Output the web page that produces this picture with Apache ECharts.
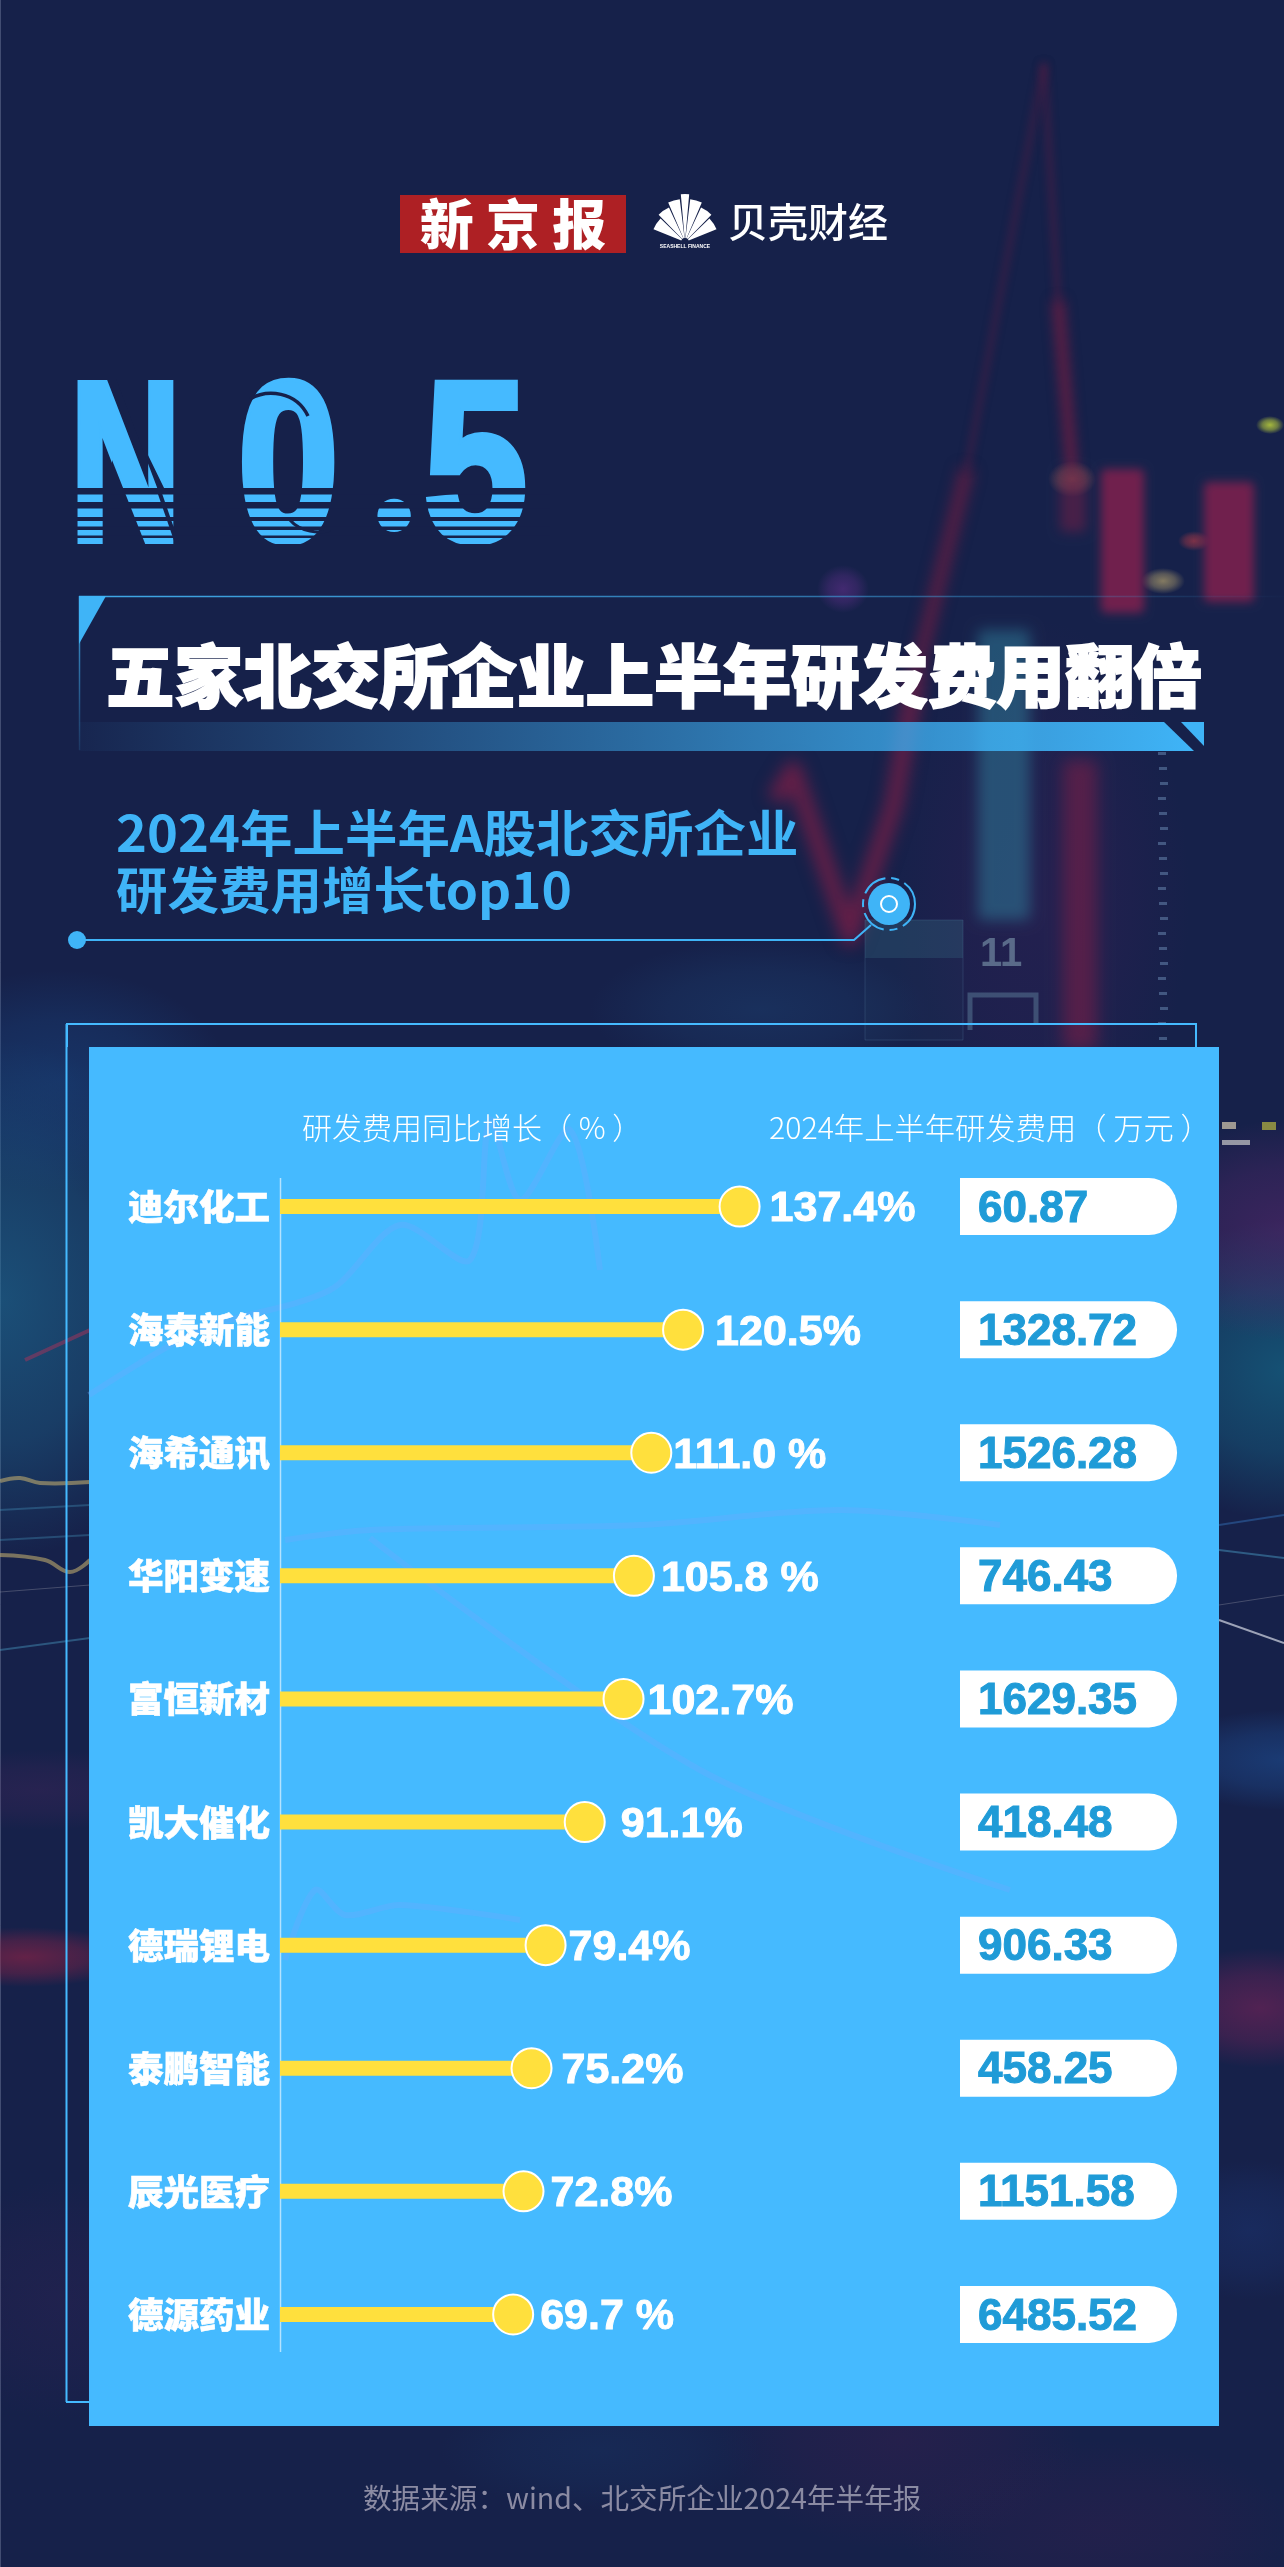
<!DOCTYPE html>
<html lang="zh-CN">
<head>
<meta charset="utf-8">
<title>五家北交所企业上半年研发费用翻倍</title>
<script src="https://cdn.jsdelivr.net/npm/echarts@6/dist/echarts.min.js"></script>
<style>
html, body { margin: 0; padding: 0; background: #16214a; }
#chart { width: 1284px; height: 2567px; }
</style>
</head>
<body>
<div id="chart"></div>
<script>
var companies = ['迪尔化工', '海泰新能', '海希通讯', '华阳变速', '富恒新材', '凯大催化', '德瑞锂电', '泰鹏智能', '辰光医疗', '德源药业'];
var growth = [137.4, 120.5, 111.0, 105.8, 102.7, 91.1, 79.4, 75.2, 72.8, 69.7];
var growthText = ['137.4%', '120.5%', '111.0 %', '105.8 %', '102.7%', '91.1%', '79.4%', '75.2%', '72.8%', '69.7 %'];
var costs = ['60.87', '1328.72', '1526.28', '746.43', '1629.35', '418.48', '906.33', '458.25', '1151.58', '6485.52'];

var CJK = '"Noto Sans CJK SC", sans-serif';
var LATIN = '"Liberation Sans", Arial, sans-serif';
var BG = '#16214a';
var BLUE = '#45baff';

// the gap between dot and label is not constant in the original
var labelGap = [4, 6, -4, 1, -2, 10, -3, 4, 1, 1];

function txt(s, x, y, size, fill, weight, family, extra) {
	var el = {
		type: 'text', x: x, y: y, z: 20, silent: true,
		style: { text: s, fontSize: size, fontWeight: weight || 'normal', fontFamily: family || CJK, fill: fill, align: 'left', verticalAlign: 'middle' }
	};
	if (extra) {
		for (var k in extra) {
			if (k === 'style') { for (var j in extra.style) el.style[j] = extra.style[j]; }
			else el[k] = extra[k];
		}
	}
	return el;
}

// radial gradients stay round on non-square shapes, so scale a unit circle instead
function blob(x, y, rx, ry, rgb, a) {
	return {
		type: 'circle', z: -5, silent: true, x: x, y: y, scaleX: rx, scaleY: ry,
		shape: { cx: 0, cy: 0, r: 1 },
		style: { fill: { type: 'radial', x: 0.5, y: 0.5, r: 0.5, colorStops: [
			{ offset: 0, color: 'rgba(' + rgb + ',' + a + ')' },
			{ offset: 0.55, color: 'rgba(' + rgb + ',' + (a * 0.6) + ')' },
			{ offset: 1, color: 'rgba(' + rgb + ',0)' }
		] } }
	};
}

// shape sits off the canvas, only its shadow lands on it: that gives a real blur
var OFF = 3000;
function candle(x, y, w, h, fill, blur) {
	return { type: 'rect', z: -4, silent: true, x: -OFF, shape: { x: x, y: y, width: w, height: h, r: 5 },
		style: { fill: '#000', shadowBlur: blur || 10, shadowColor: fill, shadowOffsetX: OFF } };
}

function glowLine(points, color, width, blur) {
	return { type: 'polyline', z: -4, silent: true, x: -OFF, shape: { points: points, smooth: 0 },
		style: { stroke: '#000', lineWidth: width, fill: null, shadowBlur: blur, shadowColor: color, shadowOffsetX: OFF, lineJoin: 'round' } };
}

var graphics = [];

// blurred market photo behind everything
graphics.push(
	{ type: 'line', z: -5, silent: true, shape: { x1: 0.5, y1: 0, x2: 0.5, y2: 2567 }, style: { stroke: 'rgba(150,160,190,.35)', lineWidth: 1 } },
	blob(0, 1300, 200, 260, '30,110,150', 0.6),
	blob(1284, 1370, 170, 150, '20,120,150', 0.55),
	blob(1284, 1230, 150, 110, '90,40,110', 0.55),
	blob(60, 1080, 170, 110, '25,70,130', 0.5),
	blob(1284, 1760, 130, 50, '30,80,150', 0.55),
	blob(25, 1957, 110, 30, '150,35,70', 0.6),
	blob(1260, 2008, 110, 60, '130,35,90', 0.55),
	blob(40, 1790, 150, 40, '90,40,100', 0.25),
	blob(1250, 2230, 100, 70, '30,60,130', 0.35),
	blob(60, 2300, 130, 120, '60,35,90', 0.25),
	blob(900, 2440, 180, 110, '70,30,80', 0.3),
	blob(1100, 2530, 200, 90, '70,30,80', 0.25),
	blob(600, 2450, 160, 60, '25,60,110', 0.3),
	blob(1040, 900, 150, 280, '60,30,90', 0.35),
	blob(760, 1010, 170, 70, '30,70,120', 0.4),
	candle(978, 630, 52, 290, 'rgba(45,120,150,.55)', 14),
	candle(1063, 760, 34, 290, 'rgba(120,30,70,.6)', 16),
	glowLine([[967, 469], [1044, 64]], 'rgba(120,28,65,.5)', 4, 8),
	glowLine([[917, 670], [967, 469]], 'rgba(130,28,65,.6)', 14, 14),
	glowLine([[1044, 64], [1058, 300]], 'rgba(130,28,65,.5)', 4, 8),
	glowLine([[1058, 300], [1072, 470]], 'rgba(140,28,65,.6)', 12, 12),
	glowLine([[775, 800], [793, 770], [850, 937], [894, 804], [917, 670]], 'rgba(150,30,70,.6)', 18, 16),
	candle(1060, 470, 26, 62, 'rgba(120,30,70,.5)', 12),
	candle(1101, 469, 43, 144, 'rgba(128,32,78,.85)', 10),
	candle(1204, 482, 50, 120, 'rgba(128,32,78,.85)', 10),
	blob(1072, 479, 24, 18, '190,110,90', 0.5),
	blob(1163, 581, 22, 13, '190,170,110', 0.65),
	blob(1194, 541, 16, 10, '190,60,70', 0.6),
	blob(1270, 425, 14, 9, '180,200,60', 0.9),
	blob(843, 589, 26, 24, '110,50,150', 0.5)
);

// faint dotted column on the right and the "11" of the photo
for (var d = 0; d < 20; d++) {
	graphics.push({ type: 'rect', z: -4, silent: true, shape: { x: 1158 + (d % 3), y: 752 + d * 15, width: 8, height: 3 }, style: { fill: 'rgba(130,170,210,.4)' } });
}
graphics.push(
	txt('11', 980, 955, 40, 'rgba(170,210,220,.42)', 'bold', LATIN, { z: -3 }),
	{ type: 'polyline', z: -3, silent: true, shape: { points: [[970, 1030], [970, 995], [1036, 995], [1036, 1025]] }, style: { stroke: 'rgba(120,170,190,.35)', lineWidth: 5, fill: null } },
	{ type: 'rect', z: -3, silent: true, shape: { x: 865, y: 920, width: 98, height: 120 }, style: { fill: 'rgba(40,70,110,.12)', stroke: 'rgba(100,150,180,.22)', lineWidth: 1 } },
	{ type: 'rect', z: -3, silent: true, shape: { x: 865, y: 920, width: 98, height: 38 }, style: { fill: 'rgba(60,120,140,.25)' } }
);

// thin streaks left and right of the panel
[
	[[0, 1481], [20, 1478], [40, 1483], [90, 1482]],
	[[0, 1555], [45, 1560], [70, 1572], [90, 1560]]
].forEach(function (p) {
	graphics.push({ type: 'polyline', z: -4, silent: true, shape: { points: p, smooth: 0.4 }, style: { stroke: 'rgba(190,170,110,.6)', lineWidth: 4, fill: null } });
});
[
	[[0, 1650], [90, 1638], 'rgba(70,150,190,.45)', 2],
	[[0, 1592], [90, 1585], 'rgba(180,180,190,.3)', 1],
	[[0, 1510], [90, 1505], 'rgba(70,150,190,.35)', 2],
	[[0, 1540], [90, 1535], 'rgba(70,150,190,.35)', 2],
	[[25, 1360], [90, 1330], 'rgba(170,50,90,.5)', 4],
	[[1219, 1620], [1284, 1643], 'rgba(190,195,210,.8)', 2],
	[[1219, 1550], [1284, 1558], 'rgba(70,150,190,.5)', 2],
	[[1219, 1525], [1284, 1515], 'rgba(50,110,180,.5)', 2],
	[[1219, 1605], [1284, 1595], 'rgba(180,180,190,.3)', 1]
].forEach(function (l) {
	graphics.push({ type: 'line', z: -4, silent: true, shape: { x1: l[0][0], y1: l[0][1], x2: l[1][0], y2: l[1][1] }, style: { stroke: l[2], lineWidth: l[3] } });
});
[[1222, 1122, 14, 7, '#d9cdb0'], [1262, 1122, 14, 8, '#b8b840'], [1222, 1140, 28, 5, '#c9c9c9']].forEach(function (s) {
	graphics.push({ type: 'rect', z: -4, silent: true, shape: { x: s[0], y: s[1], width: s[2], height: s[3] }, style: { fill: s[4], opacity: 0.7 } });
});

// logos
graphics.push(
	{ type: 'rect', z: 10, silent: true, shape: { x: 400, y: 195, width: 226, height: 58 }, style: { fill: '#ae2024' } },
	txt('新 京 报', 513, 224, 54, '#fff', 900, CJK, { style: { align: 'center' } }),
	txt('贝壳财经', 728, 222, 40, '#fff', 500),
	txt('SEASHELL FINANCE', 685, 247, 5, '#fff', 'bold', LATIN, { style: { align: 'center' } })
);
[[-158, -136, 34], [-134, -115, 38], [-113, -97, 43], [-95, -85, 48], [-83, -67, 43], [-65, -46, 38], [-44, -22, 34]].forEach(function (p) {
	graphics.push({ type: 'sector', z: 10, silent: true,
		shape: { cx: 685, cy: 242, r0: 4, r: p[2], startAngle: p[0] * Math.PI / 180, endAngle: p[1] * Math.PI / 180 },
		style: { fill: '#fff' } });
});

// NO.5 headline, real text squeezed and thickened to the original proportions
function hero(s, x, sx) {
	return txt(s, x, 478, 226, BLUE, 'bold', LATIN, { scaleX: sx, z: 11, style: { stroke: BLUE, lineWidth: 8, lineJoin: 'miter' } });
}
graphics.push(
	hero('N', 70, 0.68), hero('0', 238, 0.8), hero('5', 424, 0.82),
	txt('.', 368, 459, 220, BLUE, 'bold', '"Lato", sans-serif', { z: 11 })
);
// counters of the N and the cut through the 0, cleaned back to the background
graphics.push(
	{ type: 'polygon', z: 12, silent: true, shape: { points: [[115, 376], [147, 376], [147, 453], [165, 490], [158, 490]] }, style: { fill: BG } },
	{ type: 'polygon', z: 12, silent: true, shape: { points: [[112, 460], [146, 546], [112, 546]] }, style: { fill: BG } },
	{ type: 'line', z: 12, silent: true, shape: { x1: 158, y1: 488, x2: 178, y2: 546 }, style: { stroke: BG, lineWidth: 4 } },
	{ type: 'bezierCurve', z: 12, silent: true, shape: { x1: 250, y1: 399, cpx1: 267, cpy1: 389, cpx2: 296, cpy2: 391, x2: 308, y2: 416 }, style: { stroke: BG, lineWidth: 3.5, fill: null } },
	{ type: 'bezierCurve', z: 12, silent: true, shape: { x1: 290, y1: 520, cpx1: 300, cpy1: 532, cpx2: 320, cpy2: 534, x2: 330, y2: 530 }, style: { stroke: BG, lineWidth: 3, fill: null } }
);
[[488, 6.5], [502, 6.5], [517, 4], [526.5, 3.5], [535.5, 2.5]].forEach(function (g) {
	graphics.push({ type: 'rect', z: 12, silent: true, shape: { x: 70, y: g[0], width: 480, height: g[1] }, style: { fill: BG } });
});
graphics.push(
	{ type: 'rect', z: 12, silent: true, shape: { x: 60, y: 544, width: 500, height: 14 }, style: { fill: BG } },
	{ type: 'rect', z: 12, silent: true, shape: { x: 60, y: 364, width: 130, height: 14 }, style: { fill: BG } }
);

// title band
graphics.push(
	{ type: 'line', z: 6, silent: true, shape: { x1: 79, y1: 596.5, x2: 1290, y2: 596.5 },
		style: { lineWidth: 1.5, stroke: { type: 'linear', x: 0, y: 0, x2: 1, y2: 0, colorStops: [{ offset: 0, color: '#3fa9e8' }, { offset: 0.6, color: 'rgba(63,169,232,.6)' }, { offset: 1, color: 'rgba(63,169,232,0)' }] } } },
	{ type: 'line', z: 6, silent: true, shape: { x1: 79.5, y1: 596, x2: 79.5, y2: 750 },
		style: { lineWidth: 1.5, stroke: { type: 'linear', x: 0, y: 0, x2: 0, y2: 1, colorStops: [{ offset: 0, color: '#3fa9e8' }, { offset: 1, color: 'rgba(63,169,232,0.1)' }] } } },
	{ type: 'polygon', z: 6, silent: true, shape: { points: [[79, 596], [106, 596], [79, 644]] }, style: { fill: '#3fb4f7' } },
	{ type: 'polygon', z: 6, silent: true, shape: { points: [[79, 722], [1164, 722], [1194, 751], [79, 751]] },
		style: { fill: { type: 'linear', x: 0, y: 0, x2: 1, y2: 0, colorStops: [{ offset: 0, color: 'rgba(63,180,247,0.03)' }, { offset: 0.5, color: 'rgba(63,180,247,.5)' }, { offset: 1, color: '#3fb4f7' }] } } },
	{ type: 'polygon', z: 6, silent: true, shape: { points: [[1181, 722], [1204, 722], [1204, 746]] }, style: { fill: '#3fb4f7' } },
	txt('五家北交所企业上半年研发费用翻倍', 106, 676, 68.5, '#fff', 900, CJK, { style: { stroke: '#fff', lineWidth: 2 } })
);

// subtitle and its pointer line
graphics.push(
	txt('2024年上半年A股北交所企业', 116, 833, 50, '#3fb4f7', 'bold', CJK, { scaleX: 1.05 }),
	txt('研发费用增长top10', 116, 890, 50, '#3fb4f7', 'bold', CJK, { scaleX: 1.03 }),
	{ type: 'circle', z: 8, silent: true, shape: { cx: 77, cy: 940, r: 9 }, style: { fill: '#3fb4f7' } },
	{ type: 'polyline', z: 8, silent: true, shape: { points: [[77, 940], [854, 940], [871, 925]] }, style: { stroke: '#3fb4f7', lineWidth: 2, fill: null } },
	{ type: 'circle', z: 8, silent: true, shape: { cx: 889, cy: 904, r: 21 }, style: { fill: '#3fb4f7' } },
	{ type: 'circle', z: 8, silent: true, shape: { cx: 889, cy: 904, r: 26 }, style: { fill: 'none', stroke: '#3fb4f7', lineWidth: 2, lineDash: [26, 6, 8, 6] } },
	{ type: 'circle', z: 8, silent: true, shape: { cx: 889, cy: 904, r: 8 }, style: { fill: 'none', stroke: '#fff', lineWidth: 2 } }
);

// panel
graphics.push(
	{ type: 'polyline', z: 0, silent: true, shape: { points: [[67, 1047], [67, 1024], [1196, 1024], [1196, 1047]] }, style: { stroke: '#45baff', lineWidth: 2, fill: null } },
	{ type: 'line', z: 0, silent: true, shape: { x1: 66.5, y1: 1024, x2: 66.5, y2: 2402 }, style: { stroke: '#45baff', lineWidth: 2 } },
	{ type: 'line', z: 0, silent: true, shape: { x1: 66, y1: 2402, x2: 90, y2: 2402 }, style: { stroke: '#45baff', lineWidth: 2 } },
	{ type: 'rect', z: 1, silent: true, shape: { x: 89, y: 1047, width: 1130, height: 1379 }, style: { fill: BLUE } }
);
// the photo shows through the panel very faintly
[
	[[89, 1395], [200, 1330], [330, 1290], [400, 1225], [470, 1260], [490, 1120], [520, 1200], [570, 1130], [600, 1270]],
	[[370, 1538], [700, 1770], [1010, 1890]],
	[[285, 1540], [370, 1530], [640, 1525], [840, 1510], [1000, 1525]],
	[[285, 1960], [315, 1890], [345, 1915], [400, 1905], [520, 1920]]
].forEach(function (p) {
	graphics.push({ type: 'polyline', z: 1, silent: true, shape: { points: p, smooth: 0.3 }, style: { stroke: 'rgba(110,170,255,.33)', lineWidth: 6, fill: null, lineJoin: 'round' } });
});
graphics.push(
	txt('研发费用同比增长（ % ）', 302, 1128, 30, '#fff', 300, CJK),
	txt('2024年上半年研发费用（ 万元 ）', 769, 1128, 30, '#fff', 300, CJK, { scaleX: 1.01 }),
	{ type: 'line', z: 3, silent: true, shape: { x1: 280.5, y1: 1178, x2: 280.5, y2: 2352 }, style: { stroke: 'rgba(255,255,255,.6)', lineWidth: 1.5 } },
	txt('数据来源：wind、北交所企业2024年半年报', 363, 2498, 28.6, '#8b8ba3', 'normal', CJK)
);

var chart = echarts.init(document.getElementById('chart'), null, { renderer: 'canvas', width: 1284, height: 2567 });
chart.setOption({
	animation: false,
	backgroundColor: BG,
	graphic: { elements: graphics },
	grid: [
		{ left: 280, top: 1145, width: 669, height: 1231 },
		{ left: 960, top: 1145, width: 217, height: 1231 }
	],
	xAxis: [
		{ type: 'value', gridIndex: 0, min: 0, max: 200, show: false },
		{ type: 'value', gridIndex: 1, min: 0, max: 1, show: false }
	],
	yAxis: [
		{
			type: 'category', gridIndex: 0, inverse: true, data: companies, z: 5,
			axisLine: { show: false }, axisTick: { show: false },
			axisLabel: { color: '#fff', fontSize: 35.5, fontWeight: 900, fontFamily: CJK, margin: 10, textBorderColor: '#fff', textBorderWidth: 0.6 }
		},
		{ type: 'category', gridIndex: 1, inverse: true, data: companies, show: false }
	],
	series: [
		{
			name: '研发费用同比增长', type: 'bar', xAxisIndex: 0, yAxisIndex: 0, z: 3,
			data: growth, barWidth: 15, itemStyle: { color: '#ffe03d' }, silent: true
		},
		{
			name: '增长率端点', type: 'scatter', xAxisIndex: 0, yAxisIndex: 0, z: 4,
			data: growth.map(function (v, i) { return [v, i]; }),
			symbolSize: 40, silent: true,
			itemStyle: { color: '#ffe03d', borderColor: '#fff', borderWidth: 2, opacity: 1 },
			label: {
				show: true, position: 'right', color: '#fff', fontSize: 43, fontWeight: 'bold', fontFamily: LATIN,
				textBorderColor: '#fff', textBorderWidth: 1,
				formatter: function (p) { return growthText[p.dataIndex]; }
			},
			labelLayout: function (p) { return { dx: labelGap[p.dataIndex], dy: 3 }; }
		},
		{
			name: '2024年上半年研发费用', type: 'bar', xAxisIndex: 1, yAxisIndex: 1, z: 3,
			data: costs.map(function () { return 1; }), barWidth: 57, silent: true,
			itemStyle: { color: '#fff', borderRadius: [0, 28, 28, 0] },
			label: {
				show: true, position: 'insideLeft', distance: 18, color: '#1f9bd7', fontSize: 44, fontWeight: 'bold', fontFamily: LATIN,
				textBorderColor: '#1f9bd7', textBorderWidth: 1,
				formatter: function (p) { return costs[p.dataIndex]; }
			},
			labelLayout: { dy: 3 }
		}
	]
});
</script>
</body>
</html>
